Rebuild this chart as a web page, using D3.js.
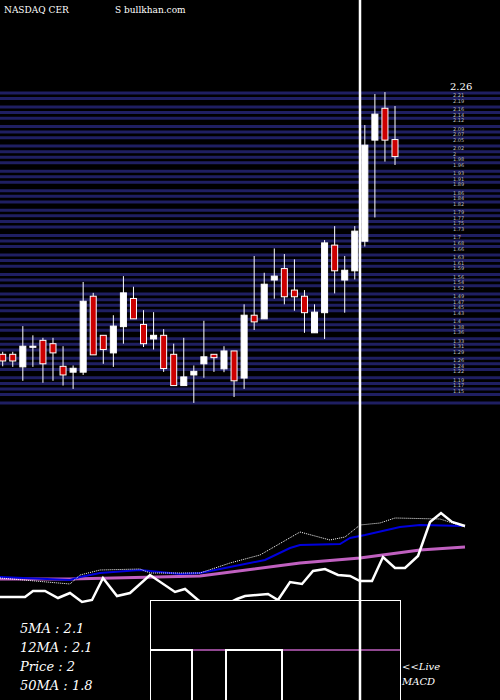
<!DOCTYPE html>
<html><head><meta charset="utf-8">
<script src="https://cdn.jsdelivr.net/npm/d3@7"></script>
<style>body{margin:0;background:#000}svg{display:block}</style>
</head><body>
<script>
// candles: open, high, low, close
var opens  = [1.285,1.285,1.240,1.310,1.335,1.323,1.242,1.221,1.221,1.493,1.353,1.290,1.384,1.485,1.392,1.340,1.353,1.285,1.173,1.211,1.251,1.285,1.233,1.297,1.200,1.425,1.412,1.551,1.592,1.515,1.493,1.362,1.434,1.676,1.551,1.584,1.690,2.052,2.166,2.054]
var highs  = [1.294,1.294,1.386,1.353,1.344,1.344,1.314,1.245,1.544,1.505,1.353,1.425,1.565,1.527,1.443,1.436,1.375,1.323,1.344,1.245,1.405,1.285,1.314,1.297,1.464,1.637,1.577,1.664,1.644,1.625,1.515,1.464,1.694,1.744,1.637,1.744,2.106,2.217,2.224,2.174]
var lows   = [1.242,1.240,1.190,1.240,1.183,1.190,1.173,1.161,1.211,1.283,1.251,1.240,1.323,1.412,1.311,1.302,1.222,1.173,1.173,1.111,1.201,1.222,1.221,1.132,1.161,1.372,1.412,1.484,1.464,1.441,1.362,1.362,1.340,1.503,1.434,1.553,1.671,1.775,1.975,1.963]
var closes = [1.261,1.261,1.314,1.314,1.251,1.290,1.211,1.235,1.475,1.283,1.302,1.386,1.505,1.412,1.323,1.353,1.234,1.173,1.204,1.224,1.276,1.273,1.297,1.190,1.425,1.401,1.536,1.565,1.491,1.491,1.434,1.436,1.684,1.584,1.586,1.726,2.034,2.145,2.052,1.993]
var priceTicks = [2.21,2.19,2.16,2.14,2.12,2.09,2.07,2.05,2.02,2,1.98,1.96,1.93,1.91,1.89,1.86,1.84,1.82,1.79,1.77,1.75,1.73,1.7,1.68,1.66,1.63,1.61,1.59,1.56,1.54,1.52,1.49,1.47,1.45,1.43,1.4,1.38,1.36,1.33,1.31,1.29,1.26,1.24,1.22,1.19,1.17,1.15]
var gridTicks = priceTicks.concat([1.13,1.1])
var topLabel = 2.26

// indicator panel lines: x position, value
var ma5X = [0,70,80,100,140,150,200,230,260,300,330,345,360,380,395,440,465]
var ma5V = [22,16,25,30,31,27,27,37,45,68,60,63,75,77,82,81,73]
var ma12X = [0,70,80,100,140,180,200,230,265,290,300,340,350,365,400,420,465]
var ma12V = [23,20,23,27,30,26,27,33,40,52,55,56,62,65,73,75,74]
var ma50X = [0,70,200,300,360,420,465]
var ma50V = [21,21,24,37,42,50,53]
var priceLX = [0,25,33,45,58,70,82,92,103,117,130,150,175,185,198,215,237,245,268,278,290,302,313,325,338,350,360,372,383,395,405,418,430,441,452,465]
var priceLV = [3,3,9,9,2,7,-2,0,22,4,7,25,8,11,0,-10,1,4,6,0,18,16,29,31,25,24,19,19,43,32,32,44,78,87,78,74]
var macdFrom = [150,192,226,282]
var macdTo   = [192,226,282,400]
var macdVal  = [1,0,1,0]
var legend = ["5MA : 2.1","12MA : 2.1","Price   : 2","50MA : 1.8"]

var W = 500, H = 700
var svg = d3.select("body").append("svg").attr("width", W).attr("height", H)
svg.append("rect").attr("width", W).attr("height", H).attr("fill", "#000")

var y = d3.scaleLinear().domain([2.21, 1.15]).range([96, 392])
var x = d3.scaleLinear().domain([0, 39]).range([2.7, 395])

// grid
svg.append("g").selectAll("line").data(gridTicks).enter().append("line")
  .attr("x1", 0).attr("x2", W)
  .attr("y1", function(d){ return y(d) - 3 }).attr("y2", function(d){ return y(d) - 3 })
  .attr("stroke", "#1f1f62").attr("stroke-width", 3)

svg.append("g").selectAll("text").data(priceTicks).enter().append("text")
  .attr("x", 453).attr("y", function(d){ return y(d) + 1 })
  .attr("fill", "#bbb").attr("font-family", "DejaVu Sans").attr("font-size", 5)
  .text(function(d){ return d })
svg.append("text").attr("x", 450).attr("y", 90).attr("fill", "#fff")
  .attr("font-family", "DejaVu Serif").attr("font-size", 10).text(topLabel)

svg.append("text").attr("x", 4).attr("y", 13).attr("fill", "#fff")
  .attr("font-family", "DejaVu Serif").attr("font-size", 9).text("NASDAQ CER")
svg.append("text").attr("x", 115).attr("y", 13).attr("fill", "#fff")
  .attr("font-family", "DejaVu Serif").attr("font-size", 9).text("S bullkhan.com")

// candles
var idx = d3.range(opens.length)
var cg = svg.append("g")
cg.selectAll("line").data(idx).enter().append("line")
  .attr("x1", function(i){ return x(i) }).attr("x2", function(i){ return x(i) })
  .attr("y1", function(i){ return y(highs[i]) }).attr("y2", function(i){ return y(lows[i]) })
  .attr("stroke", "#fff").attr("stroke-width", 1)
cg.selectAll("rect").data(idx).enter().append("rect")
  .attr("x", function(i){ return x(i) - 3 }).attr("width", 6)
  .attr("y", function(i){ return y(Math.max(opens[i], closes[i])) })
  .attr("height", function(i){ return Math.max(1, Math.abs(y(opens[i]) - y(closes[i]))) })
  .attr("fill", function(i){ return closes[i] >= opens[i] ? "#fff" : "#cc0000" })
  .attr("stroke", "#fff").attr("stroke-width", 1)

// indicator panel
var xi = d3.scaleLinear().domain([0, 465]).range([0, 465])
var yi = d3.scaleLinear().domain([0, 100]).range([600, 500])
function ln(xs, vs){ return d3.line().x(function(d){ return xi(xs[d]) }).y(function(d){ return yi(vs[d]) })(d3.range(xs.length)) }
svg.append("path").attr("d", ln(ma50X, ma50V)).attr("fill", "none").attr("stroke", "#c060c0").attr("stroke-width", 3)
svg.append("path").attr("d", ln(ma12X, ma12V)).attr("fill", "none").attr("stroke", "#0000dd").attr("stroke-width", 2)
svg.append("path").attr("d", ln(ma5X, ma5V)).attr("fill", "none").attr("stroke", "#fff").attr("stroke-width", 1).attr("stroke-dasharray", "1,1")
svg.append("path").attr("d", ln(priceLX, priceLV)).attr("fill", "none").attr("stroke", "#fff").attr("stroke-width", 2.5)

// macd box
svg.append("rect").attr("x", 150.5).attr("y", 600.5).attr("width", 250).attr("height", 110)
  .attr("fill", "#000").attr("stroke", "#fff")
var ym = d3.scaleLinear().domain([0, 1]).range([702, 650])
svg.append("line").attr("x1", 192).attr("x2", 400).attr("y1", 650).attr("y2", 650).attr("stroke", "#c060c0").attr("stroke-width", 1.5)
var steps = []
macdFrom.forEach(function(f, i){ steps.push([f, macdVal[i]]); steps.push([macdTo[i], macdVal[i]]) })
svg.append("path").attr("d", d3.line().x(function(d){ return d[0] }).y(function(d){ return ym(d[1]) })(steps))
  .attr("fill", "none").attr("stroke", "#fff").attr("stroke-width", 2)

svg.append("g").selectAll("text").data(legend).enter().append("text")
  .attr("x", 20).attr("y", function(d, i){ return 633 + i * 19 })
  .attr("fill", "#fff").attr("font-family", "DejaVu Serif").attr("font-style", "italic").attr("font-size", 13)
  .text(function(d){ return d })
svg.append("text").attr("x", 402).attr("y", 670).attr("fill", "#fff").attr("font-family", "DejaVu Serif")
  .attr("font-style", "italic").attr("font-size", 10).text("<<Live")
svg.append("text").attr("x", 402).attr("y", 685).attr("fill", "#fff").attr("font-family", "DejaVu Serif")
  .attr("font-style", "italic").attr("font-size", 10).text("MACD")

svg.append("line").attr("x1", 360).attr("x2", 360).attr("y1", 0).attr("y2", H).attr("stroke", "#fff").attr("stroke-width", 2.5)
</script>
</body></html>
